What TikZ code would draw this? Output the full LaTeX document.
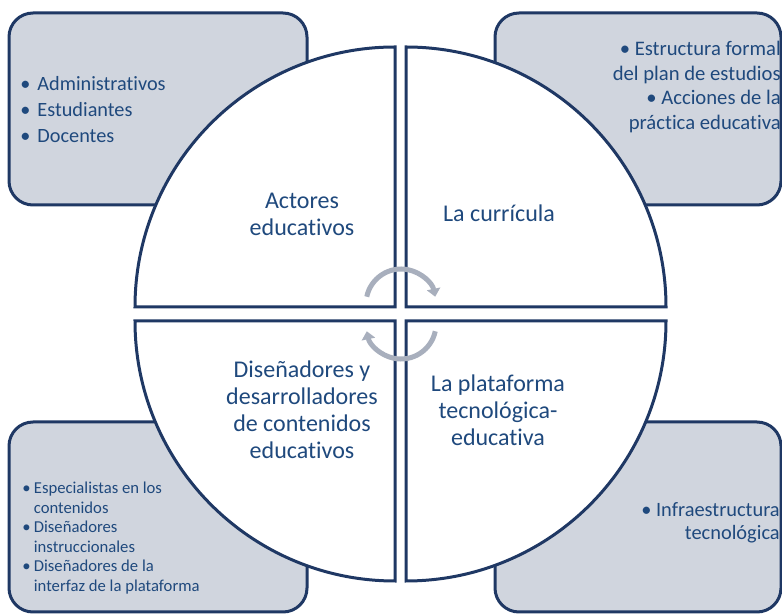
\documentclass[tikz,border=0pt]{standalone}
\usepackage{fontspec}
\setmainfont{Carlito}[Ligatures=NoCommon]
\usetikzlibrary{arrows.meta}
\definecolor{navy}{RGB}{31,56,100}
\definecolor{txtblue}{RGB}{31,73,125}
\definecolor{boxgray}{RGB}{208,213,222}
\definecolor{cycgray}{RGB}{168,175,189}

\begin{document}
\begin{tikzpicture}[
  x=0.75pt, y=0.75pt,
  infobox/.style={draw=navy, line width=2.25pt, fill=boxgray, rounded corners=18pt},
  quad/.style={draw=navy, line width=2.25pt, fill=white},
  lbl/.style={text=txtblue, align=center, inner sep=0pt,
    font=\fontsize{18}{20.25}\selectfont},
  lst/.style={text=txtblue, inner sep=0pt},
  cyc/.style={draw=cycgray, line width=3.75pt, -{Triangle[width=10pt,length=6pt]}}
]
\useasboundingbox (0,0) rectangle (782,614);

% side boxes
\draw[infobox] (9,409) rectangle (307,601);
\draw[infobox] (495,409) rectangle (781,601);
\draw[infobox] (9,2) rectangle (307,192);
\draw[infobox] (495,2) rectangle (781,192);

% quarters of the circle
\draw[quad] (395,307) -- ++(-260,0) arc[start angle=180, end angle=90, radius=260] -- cycle;
\draw[quad] (406,307) -- ++(260,0) arc[start angle=0, end angle=90, radius=260] -- cycle;
\draw[quad] (395,293) -- ++(-260,0) arc[start angle=180, end angle=270, radius=260] -- cycle;
\draw[quad] (406,293) -- ++(260,0) arc[start angle=0, end angle=-90, radius=260] -- cycle;

% cycle arrows
\draw[cyc] (401,310) ++(168:35) arc[start angle=168, end angle=12, radius=35];
\draw[cyc] (401,290) ++(-12:35) arc[start angle=-12, end angle=-168, radius=35];

% quarter labels
\node[lbl] (actores) at (302,400) {Actores\\educativos};
\node[lbl] (curricula) at (499,401) {La currícula};
\node[lbl] (disenadores) at (302,204) {Diseñadores y\\desarrolladores\\de contenidos\\educativos};
\node[lbl] (plataforma) at (498,204) {La plataforma\\tecnológica-\\educativa};

% box lists
\node[lst, anchor=west, align=left, font=\fontsize{15.2}{19.5}\selectfont] (actlist) at (20,504)
  {\textbullet\hspace{0.35em}Administrativos\\\textbullet\hspace{0.35em}Estudiantes\\\textbullet\hspace{0.35em}Docentes};
\node[lst, anchor=east, align=right, font=\fontsize{15.5}{18.5}\selectfont] (curlist) at (781,527)
  {\textbullet{} Estructura formal\\del plan de estudios\\\textbullet{} Acciones de la\\práctica educativa};
\node[lst, anchor=west, align=left, font=\fontsize{12.5}{14.6}\selectfont] (dislist) at (22,76)
  {\textbullet\hspace{0.2em}Especialistas en los\\\hphantom{\textbullet\hspace{0.2em}}contenidos\\
   \textbullet\hspace{0.2em}Diseñadores\\\hphantom{\textbullet\hspace{0.2em}}instruccionales\\
   \textbullet\hspace{0.2em}Diseñadores de la\\\hphantom{\textbullet\hspace{0.2em}}interfaz de la plataforma};
\node[lst, anchor=east, align=right, font=\fontsize{15.3}{17.2}\selectfont] (platlist) at (780,91)
  {\textbullet{} Infraestructura\\tecnológica};
\end{tikzpicture}
\end{document}
